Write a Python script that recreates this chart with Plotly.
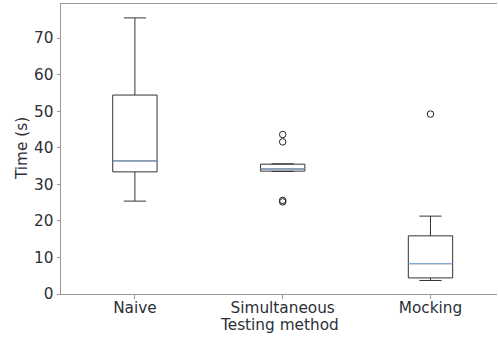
import plotly.graph_objects as go

categories = ["Naive", "Simultaneous", "Mocking"]
lower = [25.4, 33.5, 3.7]
q1 = [33.4, 33.6, 4.4]
median = [36.4, 34.2, 8.3]
q3 = [54.4, 35.5, 15.9]
upper = [75.5, 35.6, 21.3]
outlier_cat = [1, 1, 1, 1, 2]
outlier_val = [43.6, 41.6, 25.6, 25.2, 49.2]

y_ticks = [0, 10, 20, 30, 40, 50, 60, 70]

TEXT = "#2b2f38"
AXIS = "#9a9a9a"
FONT = "DejaVu Sans"
FS = 15.3
BOXW = 0.3

positions = list(range(len(categories)))

fig = go.Figure()
fig.add_trace(go.Box(
    x=positions, q1=q1, median=median, q3=q3,
    lowerfence=lower, upperfence=upper,
    width=BOXW, whiskerwidth=0.5,
    fillcolor="rgba(255,255,255,0)",
    line=dict(color="#333333", width=1),
    boxpoints=False, hoverinfo="skip", showlegend=False,
))

mx, my = [], []
for p, m in zip(positions, median):
    mx += [p - BOXW / 2, p + BOXW / 2, None]
    my += [m, m, None]
fig.add_trace(go.Scatter(x=mx, y=my, mode="lines",
                         line=dict(color="#86a8d0", width=1.2),
                         showlegend=False, hoverinfo="skip"))

fig.add_trace(go.Scatter(
    x=outlier_cat, y=outlier_val, mode="markers",
    marker=dict(symbol="circle-open", size=6.5, color="#222222",
                line=dict(width=1, color="#222222")),
    showlegend=False, hoverinfo="skip"))

fig.update_layout(
    width=498, height=338,
    margin=dict(l=61, r=1, t=4, b=44, autoexpand=False),
    paper_bgcolor="white", plot_bgcolor="white",
    font=dict(family=FONT, size=FS, color=TEXT),
    annotations=[
        dict(text="Testing method", xref="paper", yref="paper", x=0.5, y=-31 / 290,
             xanchor="center", yanchor="middle", showarrow=False,
             font=dict(size=FS, color=TEXT)),
        dict(text="Time (s)", xref="paper", yref="paper", x=-39 / 436, y=0.5,
             xanchor="center", yanchor="middle", textangle=-90, showarrow=False,
             font=dict(size=FS, color=TEXT)),
    ],
)
fig.update_xaxes(
    range=[-0.5, 2.45], tickmode="array", tickvals=positions, ticktext=categories,
    showgrid=False, zeroline=False, automargin=False,
    showline=True, linecolor=AXIS, linewidth=1, mirror=True,
    ticks="outside", ticklen=3.5, tickcolor=AXIS, tickwidth=1,
    ticklabelstandoff=-4,
    tickfont=dict(size=FS, color=TEXT),
)
fig.update_yaxes(
    range=[0, 79.3], tickmode="array", tickvals=y_ticks,
    showgrid=False, zeroline=False, automargin=False,
    showline=True, linecolor=AXIS, linewidth=1,
    ticks="outside", ticklen=3.5, tickcolor=AXIS, tickwidth=1,
    tickfont=dict(size=FS, color=TEXT),
)

fig.write_html("out.html", config={"displayModeBar": False},
               post_script="document.body.style.margin='0';")
